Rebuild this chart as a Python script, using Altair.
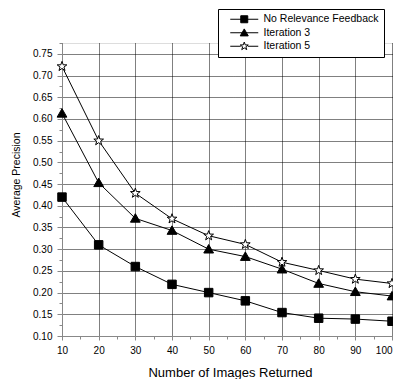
import altair as alt
import pandas as pd

# ---- data ----
images_returned = [10, 20, 30, 40, 50, 60, 70, 80, 90, 100]
no_relevance = [0.42, 0.31, 0.26, 0.219, 0.20, 0.181, 0.154, 0.141, 0.139, 0.134]
iteration_3 = [0.613, 0.453, 0.371, 0.343, 0.30, 0.283, 0.254, 0.221, 0.202, 0.192]
iteration_5 = [0.721, 0.55, 0.429, 0.37, 0.331, 0.311, 0.27, 0.251, 0.231, 0.221]
series_names = ["No Relevance Feedback", "Iteration 3", "Iteration 5"]

x_ticks = list(range(10, 101, 5))
y_ticks = [round(0.10 + 0.025 * i, 3) for i in range(0, 28)]

rows = []
for name, vals in zip(series_names, [no_relevance, iteration_3, iteration_5]):
    for xv, yv in zip(images_returned, vals):
        rows.append({"x": xv, "y": yv, "series": name})
df = pd.DataFrame(rows)

# ---- marker shapes (unit-square SVG paths) ----
sq = "M-1,-1H1V1H-1Z"
tri = "M0,-1.1L1.15,0.9H-1.15Z"
star = ("M0,-1.2L0.28,-0.39L1.14,-0.37L0.46,0.15L0.71,0.97L0,0.48"
        "L-0.71,0.97L-0.46,0.15L-1.14,-0.37L-0.28,-0.39Z")
leg_sq = "M-4,0H4M-1,-1H1V1H-1Z"
leg_tri = "M-4,0H4M0,-1.1L1.15,0.9H-1.15Z"
leg_star = "M-4,0H-1M1,0H4" + star

FONT = "Liberation Sans"
MAJ_X = "datum.value % 10 == 0"
MAJ_Y = "round(datum.value*1000) % 50 == 0"

x_enc = alt.X(
    "x:Q",
    scale=alt.Scale(domain=[10, 100.27], nice=False, zero=False),
    axis=alt.Axis(
        values=x_ticks,
        labelExpr=MAJ_X + " ? datum.label : ''",
        labelAlign={"condition": {"test": "datum.value == 100", "value": "right"}, "value": "center"},
        tickSize={"condition": {"test": MAJ_X, "value": 4}, "value": 3},
        grid=True,
        gridColor="black",
        gridDash=[1, 1],
        gridOpacity={"condition": {"test": MAJ_X, "value": 1}, "value": 0},
        labelFlush=False,
        labelPadding=5,
        title="Number of Images Returned",
        titleFontWeight="normal",
        titleFontSize=13,
        titleBaseline="alphabetic",
        titleX=168,
        titleY=40.5,
    ),
)
y_enc = alt.Y(
    "y:Q",
    scale=alt.Scale(domain=[0.10, 0.775], nice=False, zero=False),
    axis=alt.Axis(
        values=y_ticks,
        labelExpr=MAJ_Y + " ? format(datum.value, '.2f') : ''",
        tickSize={"condition": {"test": MAJ_Y, "value": 5}, "value": 3},
        grid=True,
        gridColor="black",
        gridDash=[1, 1],
        gridOpacity={"condition": {"test": MAJ_Y, "value": 1}, "value": 0},
        labelFlush=False,
        labelPadding=5,
        title="Average Precision",
        titleFontWeight="normal",
        titleFontSize=10.5,
        titleBaseline="alphabetic",
        titleX=-42.5,
        titleY=131.5,
    ),
)

base = alt.Chart(df)

lines = base.mark_line(color="black", strokeWidth=1).encode(
    x=x_enc, y=y_enc, detail="series:N", order="x:Q"
)

points = base.mark_point(filled=True, stroke="black", strokeWidth=1, opacity=1, size=72).encode(
    x=x_enc,
    y=y_enc,
    shape=alt.Shape(
        "series:N",
        scale=alt.Scale(domain=series_names, range=[sq, tri, star]),
        legend=None,
    ),
    fill=alt.Fill(
        "series:N",
        scale=alt.Scale(domain=series_names, range=["black", "black", "white"]),
        legend=None,
    ),
)

legend_kw = dict(
    title=None,
    orient="none",
    legendX=156,
    legendY=-34,
    symbolSize=49,
    strokeColor="black",
    fillColor="white",
    padding=5,
    symbolOffset=16,
    labelOffset=14,
    rowPadding=1.5,
    labelFontSize=10.5,
    labelFont=FONT,
    labelColor="black",
    cornerRadius=0,
    symbolStrokeWidth=1,
    symbolOpacity=1,
)

legend_layer = base.transform_filter("false").mark_point(
    filled=False, strokeWidth=1, opacity=1, size=49
).encode(
    x=x_enc,
    y=y_enc,
    shape=alt.Shape(
        "series:N",
        scale=alt.Scale(domain=series_names, range=[leg_sq, leg_tri, leg_star]),
        legend=alt.Legend(**legend_kw),
    ),
    fill=alt.Fill(
        "series:N",
        scale=alt.Scale(domain=series_names, range=["black", "black", "white"]),
        legend=alt.Legend(**legend_kw),
    ),
    stroke=alt.Stroke(
        "series:N",
        scale=alt.Scale(domain=series_names, range=["black", "black", "black"]),
        legend=alt.Legend(**legend_kw),
    ),
)

chart = (
    alt.layer(lines, points, legend_layer)
    .resolve_scale(shape="independent", fill="independent", stroke="independent")
    .properties(
        width=331,
        height=293,
        padding={"left": 54, "top": 35, "right": 0, "bottom": 43},
        autosize=alt.AutoSizeParams(type="none"),
    )
    .configure_view(stroke=None)
    .configure_axis(
        domainColor="black",
        tickColor="black",
        labelColor="black",
        titleColor="black",
        labelFont=FONT,
        titleFont=FONT,
        labelFontSize=11,
        titleFontWeight="normal",
        domainWidth=1,
        tickWidth=1,
        gridWidth=1,
    )
    .configure(background="white")
)

chart.save("out.html", embed_options={"renderer": "svg", "actions": False})
